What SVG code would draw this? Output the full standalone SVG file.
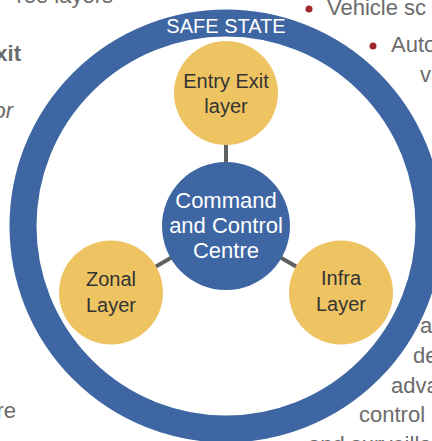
<svg xmlns="http://www.w3.org/2000/svg" width="432" height="441" viewBox="0 0 432 441">
<style>
.bg{font-family:"Liberation Sans",Arial,sans-serif;font-size:22px;fill:#6b6b6b}
.node{fill:#EEC463}
.nt{font-family:"Liberation Sans",Arial,sans-serif;font-size:20px;fill:#333333;text-anchor:middle}
.ct{font-family:"Liberation Sans",Arial,sans-serif;font-size:22px;fill:#ffffff;text-anchor:middle}
.conn{stroke:#606060;stroke-width:4}
</style>
<rect width="432" height="441" fill="#ffffff"/>
<g id="background-text">
<text class="bg" x="113" y="3" text-anchor="end">ree layers</text>
<text class="bg" x="21" y="61" text-anchor="end" font-weight="bold">xit</text>
<text class="bg" x="13" y="118" text-anchor="end" font-style="italic">or</text>
<text class="bg" x="16" y="418" text-anchor="end">re</text>
<circle cx="309" cy="9" r="3.5" fill="#A3282E"/>
<text class="bg" x="327" y="15">Vehicle sc</text>
<circle cx="373" cy="46" r="3.5" fill="#A3282E"/>
<text class="bg" x="391" y="52">Auto</text>
<text class="bg" x="420" y="82">v</text>
<text class="bg" x="420" y="333">a</text>
<text class="bg" x="413" y="363">de</text>
<text class="bg" x="391" y="393">adva</text>
<text class="bg" x="359" y="422">control</text>
<text class="bg" x="308" y="452">and surveilla</text>
</g>
<g id="safe-state">
<circle cx="226" cy="226" r="203" fill="none" stroke="#3E66A3" stroke-width="27"/>
<text x="226" y="33" font-family="'Liberation Sans',Arial,sans-serif" font-size="20" fill="#ffffff" text-anchor="middle">SAFE STATE</text>
</g>
<g id="connectors">
<line class="conn" x1="226" y1="226" x2="226" y2="93"/>
<line class="conn" x1="226" y1="226" x2="111" y2="292.5"/>
<line class="conn" x1="226" y1="226" x2="341" y2="292.5"/>
</g>
<g id="entry-exit">
<circle class="node" cx="226" cy="93" r="52"/>
<text class="nt" x="226" y="88">Entry Exit</text>
<text class="nt" x="226" y="113">layer</text>
</g>
<g id="zonal">
<circle class="node" cx="111" cy="292.5" r="52"/>
<text class="nt" x="111" y="286">Zonal</text>
<text class="nt" x="111" y="312">Layer</text>
</g>
<g id="infra">
<circle class="node" cx="341" cy="292.5" r="52"/>
<text class="nt" x="341" y="285">Infra</text>
<text class="nt" x="341" y="311">Layer</text>
</g>
<g id="command">
<circle cx="226" cy="226" r="64" fill="#3E66A3"/>
<text class="ct" x="226" y="208">Command</text>
<text class="ct" x="226" y="233">and Control</text>
<text class="ct" x="226" y="258">Centre</text>
</g>
</svg>
